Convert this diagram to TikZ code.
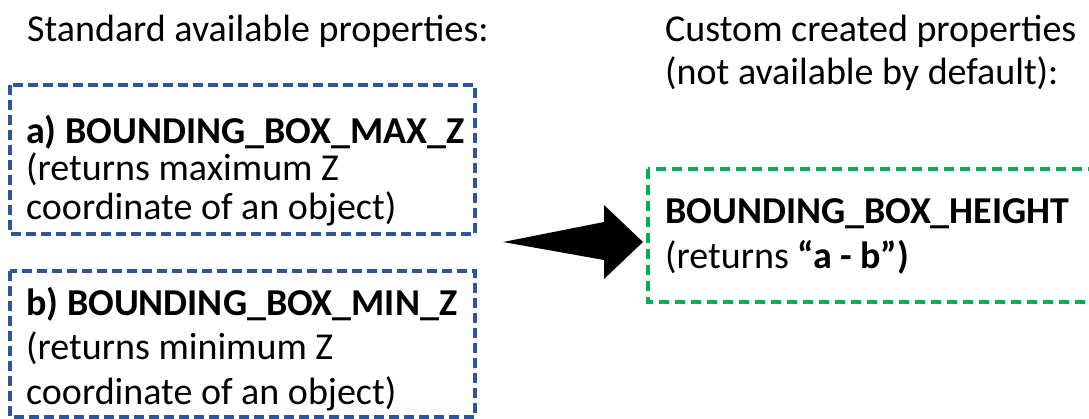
\documentclass[tikz,border=0pt]{standalone}
\usepackage{fontspec}
\setmainfont{Carlito}
\definecolor{boxblue}{RGB}{47,85,151}
\definecolor{boxgreen}{RGB}{0,176,80}
\tikzset{
  bluebox/.style={draw=boxblue, line width=3.2pt, dash pattern=on 10pt off 5pt},
  greenbox/.style={draw=boxgreen, line width=3.2pt, dash pattern=on 10pt off 6pt},
  txt/.style={anchor=base west, inner sep=0pt, font=\fontsize{38}{46}\selectfont},
  bigarrow/.style={fill=black, draw=none}
}
\begin{document}
\begin{tikzpicture}[x=1pt,y=-1pt]
\useasboundingbox (0,0) rectangle (1089,418);
\clip (0,0) rectangle (1089,418);
% titles
\node[txt] (t1) at (27,41) {Standard available properties:};
\node[txt] (t2) at (665,41) {Custom created properties};
\node[txt] (t3) at (665,84) {(not available by default):};
% box a
\draw[bluebox] (10,85) rectangle (475,234);
\node[txt] (a1) at (26,143) {\bfseries a) BOUNDING\_BOX\_MAX\_Z};
\node[txt] (a2) at (26,180) {(returns maximum Z};
\node[txt] (a3) at (26,219) {coordinate of an object)};
% box b
\draw[bluebox] (10,271) rectangle (475,417);
\node[txt] (b1) at (26,315) {\bfseries b) BOUNDING\_BOX\_MIN\_Z};
\node[txt] (b2) at (26,359) {(returns minimum Z};
\node[txt] (b3) at (26,404) {coordinate of an object)};
% green box
\draw[greenbox] (648,169) rectangle (1100,302);
\node[txt] (g1) at (665,223) {\bfseries BOUNDING\_BOX\_HEIGHT};
\node[txt] (g2) at (665,268) {(returns \textbf{“a - b”)}};
% arrow
\fill[bigarrow] (503,242) -- (604,222) -- (604,205) -- (643,242) -- (604,279) -- (604,260) -- cycle;
\end{tikzpicture}
\end{document}
